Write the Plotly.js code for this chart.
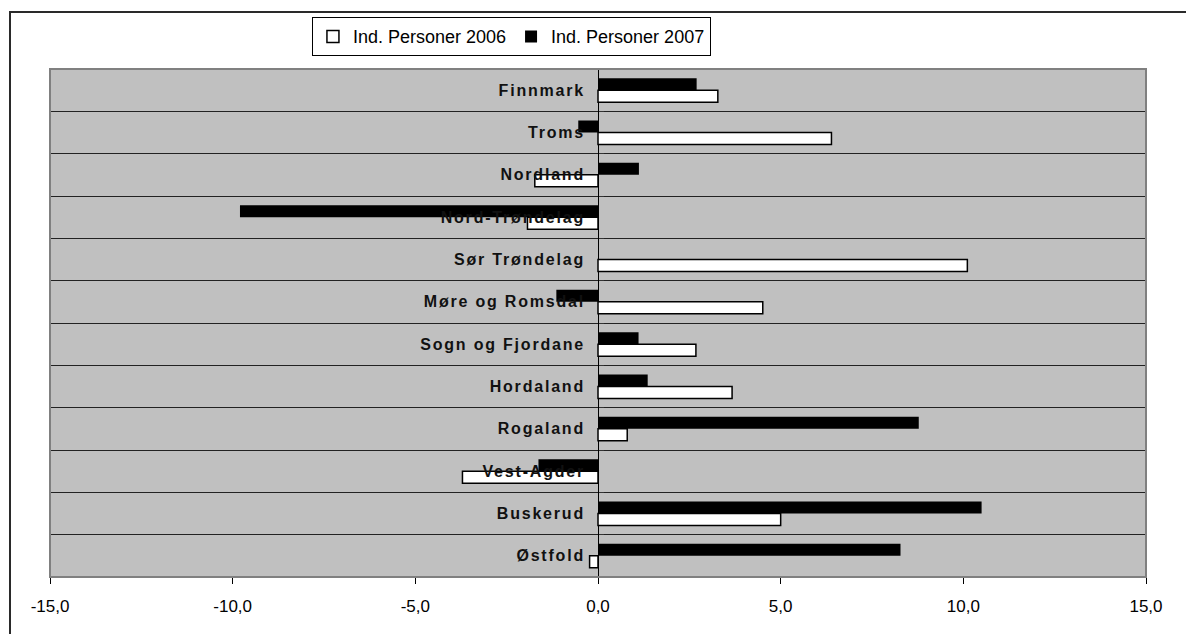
<!DOCTYPE html>
<html>
<head>
<meta charset="utf-8">
<script src="https://cdn.plot.ly/plotly-3.0.1.min.js"></script>
<style>
  html, body { margin: 0; padding: 0; background: #ffffff; }
  #frame { position: absolute; left: 9px; top: 11px; width: 1300px; height: 800px;
           border-left: 2px solid #2a2a2a; border-top: 2px solid #2a2a2a; }
  #chart { position: absolute; left: 0; top: 0; width: 1186px; height: 634px; }
  .ytick text { letter-spacing: 1.8px; }
</style>
</head>
<body>
<div id="frame"></div>
<div id="chart"></div>
<script>
// Categories listed bottom-to-top as drawn
const fylker = ["Østfold", "Buskerud", "Vest-Agder", "Rogaland", "Hordaland",
  "Sogn og Fjordane", "Møre og Romsdal", "Sør Trøndelag", "Nord-Trøndelag",
  "Nordland", "Troms", "Finnmark"];
const personer2006 = [-0.23, 5.0, -3.71, 0.80, 3.67, 2.68, 4.51, 10.11, -1.93, -1.73, 6.39, 3.28];
const personer2007 = [8.28, 10.5, -1.63, 8.78, 1.36, 1.11, -1.14, 0.0, -9.80, 1.12, -0.54, 2.70];
const seriesNames = ["Ind. Personer 2006", "Ind. Personer 2007"];
const xTicks = [-15, -10, -5, 0, 5, 10, 15];
const xTickLabels = ["-15,0", "-10,0", "-5,0", "0,0", "5,0", "10,0", "15,0"];

const traces = [
  {
    type: "bar", orientation: "h", name: seriesNames[0],
    y: fylker, x: personer2006,
    marker: { color: "#ffffff", line: { color: "#000000", width: 1.5 } },
    hoverinfo: "x+y"
  },
  {
    type: "bar", orientation: "h", name: seriesNames[1],
    y: fylker, x: personer2007,
    marker: { color: "#000000", line: { color: "#000000", width: 0 } },
    hoverinfo: "x+y"
  }
];

const layout = {
  width: 1186, height: 634,
  margin: { l: 50, r: 40, t: 69, b: 57, pad: 0 },
  paper_bgcolor: "rgba(0,0,0,0)",
  plot_bgcolor: "#c0c0c0",
  barmode: "group",
  bargap: 0.433,
  bargroupgap: 0,
  separators: ", ",
  font: { family: "Arial, 'Liberation Sans', sans-serif", color: "#000000" },
  showlegend: true,
  legend: {
    orientation: "h",
    x: 0.239, y: 1.102, xanchor: "left", yanchor: "top",
    bgcolor: "#ffffff", bordercolor: "#000000", borderwidth: 1,
    font: { size: 18, family: "Arial, 'Liberation Sans', sans-serif", color: "#000000" },
    traceorder: "normal",
    itemclick: false
  },
  xaxis: {
    range: [-15, 15],
    tickmode: "array",
    tickvals: xTicks,
    ticktext: xTickLabels,
    ticks: "outside", ticklen: 6, tickwidth: 1, tickcolor: "#000000",
    tickfont: { size: 17, color: "#000000" },
    ticklabelstandoff: 8,
    showgrid: false,
    zeroline: true, zerolinecolor: "#000000", zerolinewidth: 1,
    showline: false,
    fixedrange: true
  },
  yaxis: {
    type: "category",
    anchor: "free", position: 0.5, side: "left",
    tickson: "boundaries",
    ticks: "inside", ticklen: 5, tickcolor: "#333333",
    showgrid: true, gridcolor: "#222222", gridwidth: 1,
    showline: false,
    tickfont: { size: 16, weight: "bold", color: "#111111" },
    ticklabelstandoff: 13,
    layer: "above traces",
    fixedrange: true
  },
  shapes: [
    { type: "rect", xref: "paper", yref: "paper", x0: 0, x1: 1, y0: 0, y1: 1,
      line: { color: "#808080", width: 2 }, fillcolor: "rgba(0,0,0,0)", layer: "above" }
  ]
};

Plotly.newPlot("chart", traces, layout, { displayModeBar: false, staticPlot: true });
</script>
</body>
</html>
